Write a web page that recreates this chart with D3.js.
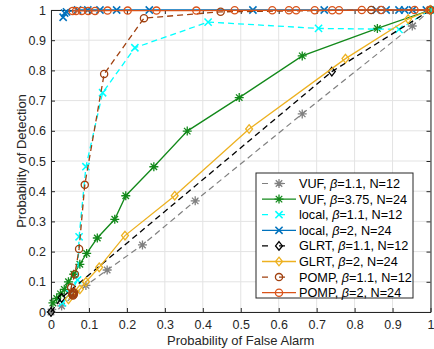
<!DOCTYPE html>
<html>
<head>
<meta charset="utf-8">
<script src="https://cdn.jsdelivr.net/npm/d3@7"></script>
<style>
  html, body { margin: 0; padding: 0; background: #fff; }
  svg { display: block; font-family: "Liberation Sans", Arial, Helvetica, sans-serif; }
</style>
</head>
<body>
<svg id="chart" width="434" height="349"></svg>
<script>
// Pfa / Pd pairs
const vuf11 = [[0, 0], [0.028, 0.02], [0.092, 0.088], [0.148, 0.139], [0.241, 0.222], [0.38, 0.368], [0.662, 0.656], [0.952, 0.947], [1, 1]];
const vuf375 = [[0.005, 0.03], [0.015, 0.045], [0.025, 0.06], [0.035, 0.075], [0.046, 0.1], [0.06, 0.125], [0.076, 0.158], [0.094, 0.194], [0.122, 0.245], [0.168, 0.307], [0.197, 0.385], [0.271, 0.481], [0.359, 0.599], [0.496, 0.71], [0.662, 0.848], [0.86, 0.939], [1, 1]];
const local11 = [[0.03, 0.03], [0.05, 0.06], [0.07, 0.106], [0.074, 0.249], [0.092, 0.481], [0.136, 0.726], [0.221, 0.875], [0.414, 0.96], [0.705, 0.939], [0.917, 0.936], [1, 1]];
const local2 = [[0.032, 0.976], [0.036, 0.99], [0.041, 0.994], [0.07, 1], [0.097, 1], [0.129, 1], [0.173, 1], [0.259, 1], [0.532, 1], [0.72, 1], [0.857, 1], [0.883, 1], [0.917, 1], [0.932, 1], [0.953, 1], [0.989, 1]];
const glrt11 = [[0, 0], [0.028, 0.047], [0.74, 0.796], [1, 1]];
const glrt2 = [[0.046, 0.042], [0.076, 0.075], [0.092, 0.1], [0.127, 0.148], [0.195, 0.253], [0.326, 0.385], [0.522, 0.606], [0.776, 0.839], [0.941, 0.97], [1, 1]];
const pomp11 = [[0.058, 0.055], [0.056, 0.058], [0.06, 0.058], [0.058, 0.062], [0.061, 0.064], [0.057, 0.066], [0.053, 0.081], [0.063, 0.125], [0.074, 0.209], [0.089, 0.421], [0.14, 0.788], [0.245, 0.973], [0.447, 0.994], [0.844, 1], [1, 1]];
const pomp2 = [[0.057, 0.997], [0.066, 0.997], [0.081, 0.997], [0.098, 0.997], [0.116, 0.997], [0.149, 0.998], [0.202, 0.998], [0.278, 0.998], [0.383, 0.998], [0.484, 0.999], [0.583, 0.999], [0.627, 0.999], [0.646, 0.999], [0.695, 0.999], [0.741, 0.999], [0.759, 0.999], [0.819, 1], [0.87, 1], [0.958, 1], [0.997, 1]];

const legendNames = ["VUF", "VUF", "local", "local", "GLRT", "GLRT", "POMP", "POMP"];
const legendBetas = ["1.1", "3.75", "1.1", "2", "1.1", "2", "1.1", "2"];
const legendNs = ["12", "24", "12", "24", "12", "24", "12", "24"];
const xTicks = [0, 0.1, 0.2, 0.3, 0.4, 0.5, 0.6, 0.7, 0.8, 0.9, 1];
const yTicks = [0, 0.1, 0.2, 0.3, 0.4, 0.5, 0.6, 0.7, 0.8, 0.9, 1];

const series = [
  { data: vuf11, color: "#808080", dash: "6,4", marker: "star", width: 1.2 },
  { data: vuf375, color: "#12891a", dash: null, marker: "star", width: 1.3 },
  { data: local11, color: "#00ffff", dash: "6,4", marker: "x", width: 1.3 },
  { data: local2, color: "#0072bd", dash: null, marker: "x", width: 1.3 },
  { data: glrt11, color: "#000000", dash: "6,4", marker: "diamond", width: 1.3 },
  { data: glrt2, color: "#edb120", dash: null, marker: "diamond", width: 1.3 },
  { data: pomp11, color: "#a0400f", dash: "6,4", marker: "circle", width: 1.3 },
  { data: pomp2, color: "#d95319", dash: null, marker: "circle", width: 1.3 }
];

const svg = d3.select("#chart");
const margin = { left: 51, top: 10, right: 3, bottom: 37 };
const W = 434, H = 349;
const x = d3.scaleLinear().domain([0, 1]).range([margin.left, W - margin.right - 0.5]);
const y = d3.scaleLinear().domain([0, 1]).range([H - margin.bottom, margin.top]);
const axisColor = "#262626";

// grid
const grid = svg.append("g");
grid.selectAll(".gx").data(xTicks).enter().append("line")
  .attr("x1", d => x(d)).attr("x2", d => x(d))
  .attr("y1", y(0)).attr("y2", y(1))
  .attr("stroke", "#e3e3e3").attr("stroke-width", 1);
grid.selectAll(".gy").data(yTicks).enter().append("line")
  .attr("y1", d => y(d)).attr("y2", d => y(d))
  .attr("x1", x(0)).attr("x2", x(1))
  .attr("stroke", "#e3e3e3").attr("stroke-width", 1);

// axes (ticks inside, box on all sides)
const tickLen = 4;
const fmt = d => d === 0 || d === 1 ? String(d) : d3.format(".1f")(d);
const xAxis = svg.append("g").attr("transform", `translate(0,${y(0)})`)
  .call(d3.axisBottom(x).tickValues(xTicks).tickFormat(fmt).tickSizeInner(-tickLen).tickSizeOuter(0).tickPadding(8));
const yAxis = svg.append("g").attr("transform", `translate(${x(0)},0)`)
  .call(d3.axisLeft(y).tickValues(yTicks).tickFormat(fmt).tickSizeInner(-tickLen).tickSizeOuter(0).tickPadding(5));
const xTop = svg.append("g").attr("transform", `translate(0,${y(1)})`)
  .call(d3.axisTop(x).tickValues(xTicks).tickFormat("").tickSizeInner(-tickLen).tickSizeOuter(0));
const yRight = svg.append("g").attr("transform", `translate(${x(1)},0)`)
  .call(d3.axisRight(y).tickValues(yTicks).tickFormat("").tickSizeInner(-tickLen).tickSizeOuter(0));
[xAxis, yAxis, xTop, yRight].forEach(g => {
  g.selectAll("path").attr("stroke", axisColor).attr("stroke-width", 1);
  g.selectAll("line").attr("stroke", axisColor);
  g.selectAll("text").attr("fill", axisColor).attr("font-size", 12.5)
    .attr("font-family", "'Liberation Sans', Arial, sans-serif");
});

svg.append("text").attr("x", (x(0) + x(1)) / 2).attr("y", 345)
  .attr("text-anchor", "middle").attr("font-size", 13).attr("fill", axisColor)
  .text("Probability of False Alarm");
svg.append("text").attr("transform", `translate(26,${(y(0) + y(1)) / 2}) rotate(-90)`)
  .attr("text-anchor", "middle").attr("font-size", 13).attr("fill", axisColor)
  .text("Probability of Detection");

// markers
function drawMarker(g, type, cx, cy, color) {
  if (type === "star") {
    const r = 4.5, d = r * 0.72;
    const p = `M${cx - r},${cy}L${cx + r},${cy}M${cx},${cy - r}L${cx},${cy + r}` +
      `M${cx - d},${cy - d}L${cx + d},${cy + d}M${cx - d},${cy + d}L${cx + d},${cy - d}`;
    g.append("path").attr("d", p).attr("stroke", color).attr("stroke-width", 1.3).attr("fill", "none");
  } else if (type === "x") {
    const d = 3.6;
    g.append("path").attr("d", `M${cx - d},${cy - d}L${cx + d},${cy + d}M${cx - d},${cy + d}L${cx + d},${cy - d}`)
      .attr("stroke", color).attr("stroke-width", 1.5).attr("fill", "none");
  } else if (type === "diamond") {
    const d = 4.3;
    g.append("path").attr("d", `M${cx},${cy - d}L${cx + d * 0.8},${cy}L${cx},${cy + d}L${cx - d * 0.8},${cy}Z`)
      .attr("stroke", color).attr("stroke-width", 1.3).attr("fill", "none");
  } else if (type === "circle") {
    g.append("circle").attr("cx", cx).attr("cy", cy).attr("r", 3.6)
      .attr("stroke", color).attr("stroke-width", 1.3).attr("fill", "none");
  }
}

const line = d3.line().x(d => x(d[0])).y(d => y(d[1]));
const plot = svg.append("g");
series.forEach(s => {
  const g = plot.append("g");
  g.append("path").datum(s.data).attr("d", line)
    .attr("fill", "none").attr("stroke", s.color).attr("stroke-width", s.width)
    .attr("stroke-dasharray", s.dash);
  s.data.forEach(d => drawMarker(g, s.marker, x(d[0]), y(d[1]), s.color));
});

// legend
const lg = svg.append("g");
const lx = 256, ly = 173, lw = 157, lh = 125, rowH = 15.6;
lg.append("rect").attr("x", lx).attr("y", ly).attr("width", lw).attr("height", lh)
  .attr("fill", "#fff").attr("stroke", axisColor).attr("stroke-width", 1);
series.forEach((s, i) => {
  const cy = ly + 10.5 + i * rowH;
  lg.append("line").attr("x1", lx + 6).attr("x2", lx + 40).attr("y1", cy).attr("y2", cy)
    .attr("stroke", s.color).attr("stroke-width", s.width)
    .attr("stroke-dasharray", s.dash ? "6,11" : null);
  drawMarker(lg, s.marker, lx + 23, cy, s.color);
  const t = lg.append("text").attr("x", lx + 43).attr("y", cy + 4.5)
    .attr("font-size", 12.7).attr("fill", "#000");
  t.append("tspan").text(legendNames[i] + ", ");
  t.append("tspan").attr("font-style", "italic").text("β");
  t.append("tspan").text("=" + legendBetas[i] + ", N=" + legendNs[i]);
});
</script>
</body>
</html>
